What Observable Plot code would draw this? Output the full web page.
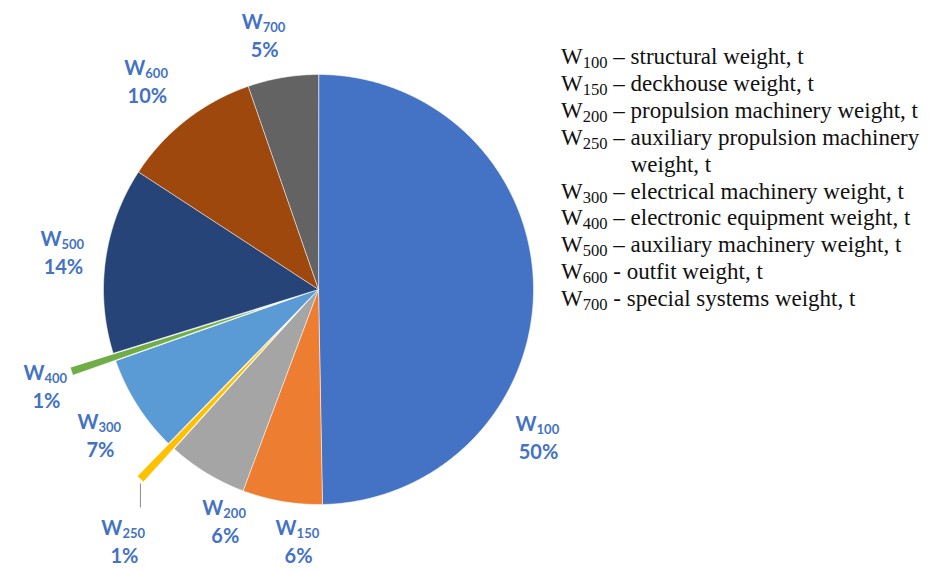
<!DOCTYPE html>
<html>
<head>
<meta charset="utf-8">
<script src="https://cdn.jsdelivr.net/npm/d3@7"></script>
<script src="https://cdn.jsdelivr.net/npm/@observablehq/plot@0.6"></script>
<style>
  html, body { margin: 0; padding: 0; background: #fff; }
  #wrap { position: relative; width: 942px; height: 570px; }
  #legend {
    position: absolute; left: 561px; top: 44px; width: 378px;
    font-family: "Liberation Serif", "Times New Roman", serif;
    font-size: 23px; line-height: 26.9px; color: #111;
  }
  #legend .row { padding-left: 3.03em; text-indent: -3.03em; }
  #legend sub { font-size: 0.72em; vertical-align: -0.22em; line-height: 0; }
</style>
</head>
<body>
<div id="wrap"><div id="chart"></div><div id="legend"></div></div>
<script>
// ---- data ----
const codes = ["100", "150", "200", "250", "300", "400", "500", "600", "700"];
const shares = [49.7, 6.0, 6.0, 0.6, 7.3, 0.6, 14.0, 10.5, 5.3];
const pctLabels = ["50%", "6%", "6%", "1%", "7%", "1%", "14%", "10%", "5%"];
const colors = ["#4472C4", "#ED7D31", "#A5A5A5", "#FFC000", "#5B9BD5", "#70AD47", "#264478", "#9E480E", "#636363"];
const legendCodes = ["100", "150", "200", "250", "300", "400", "500", "600", "700"];
const legendDash = ["–", "–", "–", "–", "–", "–", "–", "-", "-"];
const legendTexts = [
  "structural weight, t",
  "deckhouse weight, t",
  "propulsion machinery weight, t",
  "auxiliary propulsion machinery weight, t",
  "electrical machinery weight, t",
  "electronic equipment weight, t",
  "auxiliary machinery weight, t",
  "outfit weight, t",
  "special systems weight, t"
];

// ---- layout (styling) ----
const explodedCodes = ["250", "400"];
const explodeBy = 0.21;              // in pie-radius units
// label placement: clockwise angle from top (deg) and distance (radius units)
const labelAngle = [124.1, 184.5, 201.8, 217.5, 236.0, 250.2, 278.0, 320.4, 348.0];
const labelDist  = [1.236, 1.18, 1.167, 1.483, 1.223, 1.345, 1.198, 1.249, 1.203];
const labelColor = "#4472C4";
const labelFont = "Lato, 'Open Sans', sans-serif";

// ---- build slices ----
const total = d3.sum(shares);
const ends = d3.cumsum(shares);
const rad = d => d * Math.PI / 180;
const slices = codes.map((code, i) => {
  const a0 = 2 * Math.PI * (ends[i] - shares[i]) / total;
  const a1 = 2 * Math.PI * ends[i] / total;
  const mid = (a0 + a1) / 2;
  const off = explodedCodes.includes(code) ? explodeBy : 0;
  const ox = off * Math.sin(mid), oy = -off * Math.cos(mid);
  const pts = [{x: ox, y: oy}];
  const n = Math.max(2, Math.ceil((a1 - a0) / rad(0.25)));
  for (let k = 0; k <= n; k++) {
    const a = a0 + (a1 - a0) * k / n;
    pts.push({x: ox + Math.sin(a), y: oy - Math.cos(a)});
  }
  return {code, color: colors[i], pts, mid, off};
});

const labels = codes.map((code, i) => ({
  code,
  pct: pctLabels[i],
  x: labelDist[i] * Math.sin(rad(labelAngle[i])),
  y: -labelDist[i] * Math.cos(rad(labelAngle[i]))
}));

// leader line for the exploded W250 slice
const s250 = slices[codes.indexOf("250")];
const l250 = labels[codes.indexOf("250")];
const lx = (1 + s250.off) * Math.sin(s250.mid);
const ly = -(1 + s250.off) * Math.cos(s250.mid);
const leader = [{x1: lx, y1: ly + 0.02, x2: lx, y2: l250.y - 0.163}];

const marks = [];
for (const s of slices) {
  marks.push(Plot.line(s.pts, {
    x: "x", y: "y", fill: s.color, stroke: "#ffffff", strokeWidth: 0.8,
    strokeOpacity: 0.7, curve: "linear-closed"
  }));
}
marks.push(Plot.link(leader, {x1: "x1", y1: "y1", x2: "x2", y2: "y2", stroke: "#8c8c8c", strokeWidth: 1}));
marks.push(Plot.text(labels, {
  x: "x", y: "y", text: () => "W", dy: -14, dx: -2, textAnchor: "end",
  fill: labelColor, fontSize: 20, fontWeight: 700, fontFamily: labelFont
}));
marks.push(Plot.text(labels, {
  x: "x", y: "y", text: "code", dy: -8.5, dx: -2, textAnchor: "start",
  fill: labelColor, fontSize: 13, fontWeight: 700, fontFamily: labelFont
}));
marks.push(Plot.text(labels, {
  x: "x", y: "y", text: "pct", dy: 14,
  fill: labelColor, fontSize: 20, fontWeight: 700, fontFamily: labelFont
}));

const chart = Plot.plot({
  width: 942, height: 570, margin: 0,
  x: {domain: [-1, 1], range: [103, 533], axis: null},
  y: {domain: [-1, 1], range: [74, 504], axis: null},
  style: {background: "white", overflow: "visible"},
  marks
});
document.getElementById("chart").appendChild(chart);

// ---- legend ----
const legend = d3.select("#legend");
legendCodes.forEach((c, i) => {
  const row = legend.append("div").attr("class", "row");
  row.append("span").text("W");
  row.append("sub").text(c);
  row.append("span").text(legendDash[i] === "–" ? " – " : " - ");
  row.append("span").text(legendTexts[i]);
});
</script>
</body>
</html>
